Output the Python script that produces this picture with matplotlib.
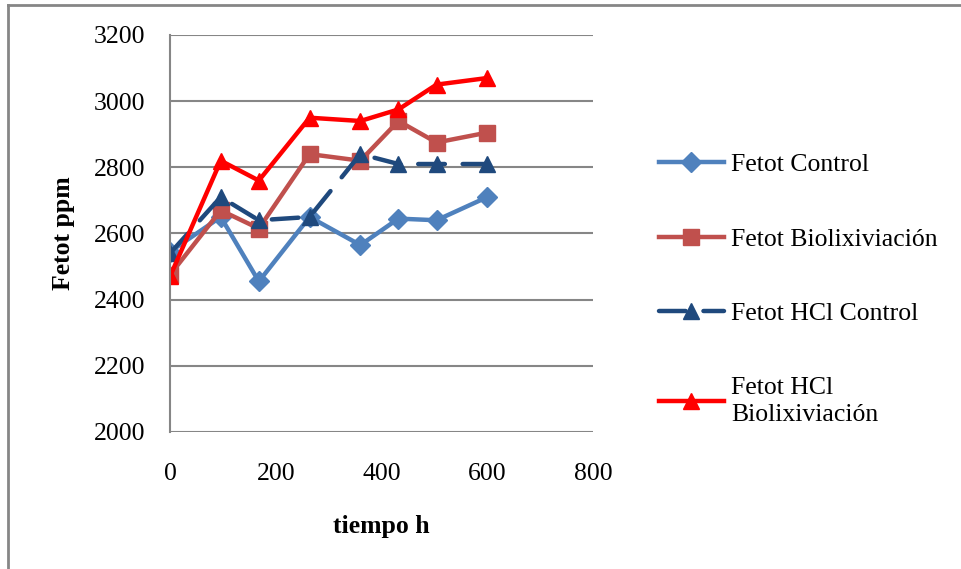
import matplotlib.pyplot as plt
from matplotlib.lines import Line2D

plt.rcParams['font.family'] = ['Liberation Serif', 'DejaVu Serif']

# Datos
tiempo = [0, 96, 168, 264, 360, 432, 504, 600]
fe_control = [2545, 2650, 2455, 2650, 2565, 2645, 2640, 2710]
fe_biolix = [2475, 2670, 2615, 2840, 2820, 2940, 2875, 2905]
fe_hcl_control = [2540, 2710, 2640, 2650, 2840, 2810, 2810, 2810]
fe_hcl_biolix = [2470, 2820, 2760, 2950, 2940, 2975, 3050, 3070]

fig = plt.figure(figsize=(9.61, 5.69), dpi=100)
ax = fig.add_axes([0.1769, 0.2408, 0.4402, 0.6977])

ax.plot(tiempo, fe_control, color='#4F81BD', lw=3.2, marker='D', ms=10,
        label='Fetot Control')
ax.plot(tiempo, fe_biolix, color='#C0504D', lw=3.2, marker='s', ms=12,
        label='Fetot Biolixiviación')
ax.plot(tiempo, fe_hcl_control, color='#1F497D', lw=3.2, marker='^', ms=12,
        dashes=(6, 4), dash_capstyle='round', label='Fetot HCl Control')
ax.plot(tiempo, fe_hcl_biolix, color='#FF0000', lw=3.2, marker='^', ms=12,
        label='Fetot HCl\nBiolixiviación')

ax.set_xlim(0, 800)
ax.set_ylim(2000, 3200)
ax.set_xticks(range(0, 801, 200))
ax.set_yticks(range(2000, 3201, 200))
ax.tick_params(length=0, labelsize=18.5)
ax.tick_params(axis='y', pad=18)
ax.tick_params(axis='x', pad=22)
ax.grid(axis='y', color='#868686', lw=1.5)
ax.set_axisbelow(True)
for s in ['top', 'right', 'bottom']:
    ax.spines[s].set_visible(False)
ax.spines['left'].set_color('#868686')
ax.spines['left'].set_linewidth(1.5)

ax.set_xlabel('tiempo h', fontsize=18.5, fontweight='bold', labelpad=22)
ax.set_ylabel('Fetot ppm', fontsize=18.5, fontweight='bold', labelpad=13)

leg = fig.legend(loc='upper left', bbox_to_anchor=(0.662, 0.771), frameon=False,
                 fontsize=18.5, handlelength=2.5, handletextpad=0.3,
                 labelspacing=2.0)
for t in leg.get_texts():
    t.set_linespacing(1.3)

# marco exterior
fig.add_artist(Line2D([0.0083, 1], [0.991, 0.991], color='#868686', lw=2))
fig.add_artist(Line2D([0.0083, 0.0083], [0, 0.991], color='#868686', lw=2))

fig.savefig('out.png', dpi=100)
